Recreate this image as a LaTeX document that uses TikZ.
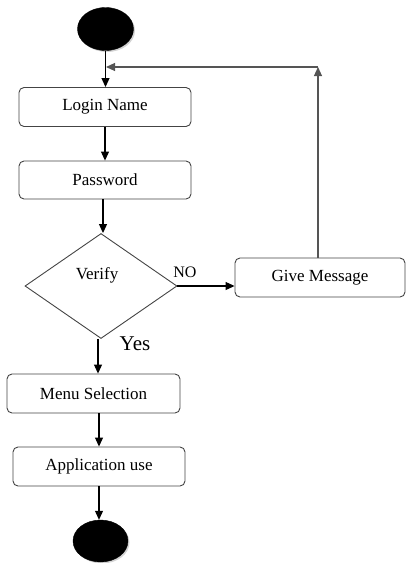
\documentclass[tikz,border=0pt]{standalone}
\usepackage{fontspec}
\setmainfont{Liberation Serif}
\usetikzlibrary{arrows.meta,shapes.geometric,shadows}
\definecolor{boxline}{HTML}{444444}
\definecolor{loopline}{HTML}{555555}
\tikzset{
  actbox/.style={draw=boxline, line width=0.9pt, rounded corners=5pt, fill=white,
    inner sep=0pt, font=\fontsize{17}{20}\selectfont},
  blob/.style={ellipse, fill=black, draw=black, inner sep=0pt,
    drop shadow={shadow xshift=1.5pt, shadow yshift=-1.5pt, opacity=0.35, fill=gray}},
  conn/.style={draw=black, line width=1.1pt, -{Triangle[length=9pt,width=8pt]}},
  loopconn/.style={draw=loopline, line width=1.1pt, -{Triangle[length=9pt,width=8pt]}},
  lbl/.style={inner sep=0pt}
}
\begin{document}
\begin{tikzpicture}[x=1pt,y=-1pt]
\useasboundingbox (0,0) rectangle (406,563);
% nodes
\node[blob, minimum width=56pt, minimum height=43pt] (start) at (105.5,29) {};
\node[actbox, minimum width=172pt, minimum height=39pt] (login) at (105,107) {Login Name};
\node[actbox, minimum width=172pt, minimum height=38pt] (pass) at (105,180) {Password};
\node[diamond, draw=boxline, line width=0.9pt, minimum width=152pt, minimum height=105pt, inner sep=0pt] (verify) at (101,286) {};
\node[lbl, font=\fontsize{17}{20}\selectfont] (vtext) at (97,275) {Verify};
\node[actbox, minimum width=170pt, minimum height=39pt] (msg) at (320,277.5) {Give Message};
\node[actbox, minimum width=173pt, minimum height=39pt] (menu) at (93.5,393.5) {Menu Selection};
\node[actbox, minimum width=172pt, minimum height=39pt] (app) at (99,466.5) {Application use};
\node[blob, minimum width=55pt, minimum height=42pt] (stop) at (100.5,541) {};
% labels
\node[lbl, font=\fontsize{16}{18}\selectfont] (no) at (185,272) {NO};
\node[lbl, font=\fontsize{21}{24}\selectfont] (yes) at (135,344) {Yes};
% coordinates for loop
\coordinate (c1) at (318,67);
\coordinate (c2) at (106,67);
% connectors
\draw[conn] (start.south) -- (start.south |- login.north);
\draw[conn] (login.south) -- (pass.north);
\draw[conn] (pass.south -| 103,0) coordinate (ps) -- (ps |- verify.north);
\draw[conn] (verify.east) -- (msg.west |- verify.east);
\draw[loopconn] (msg.north -| c1) -- (c1);
\draw[loopconn] (c1) -- (c2);
\draw[conn] (verify.south) ++(-3,0) coordinate (vs) -- (vs |- menu.north);
\draw[conn] (menu.south -| app.north) -- (app.north);
\draw[conn] (app.south) -- (app.south |- stop.north);
\end{tikzpicture}
\end{document}
